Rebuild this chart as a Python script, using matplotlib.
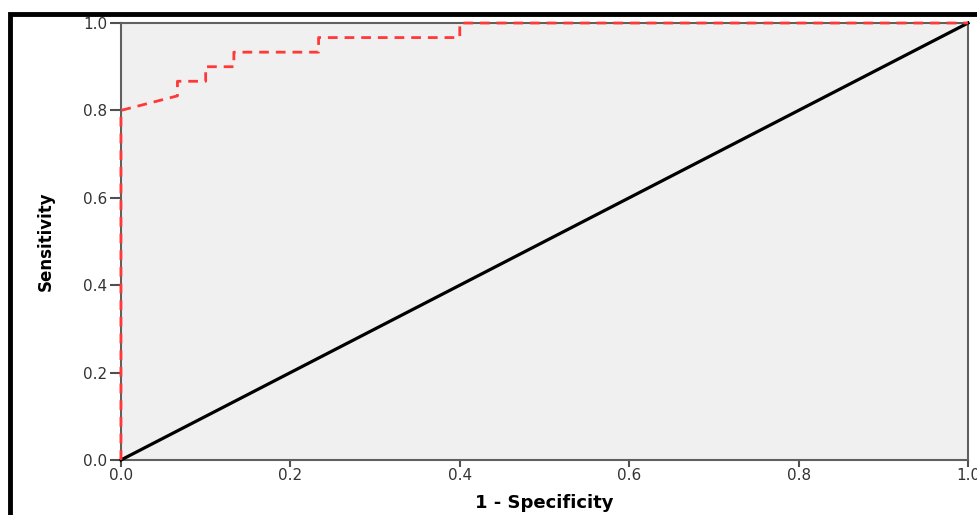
import matplotlib.pyplot as plt
from matplotlib.patches import Rectangle

# ROC curve points
fpr = [0.0, 0.0, 0.0667, 0.0667, 0.1, 0.1, 0.1333, 0.1333, 0.2333, 0.2333, 0.4, 0.4, 1.0]
tpr = [0.0, 0.8, 0.8333, 0.8667, 0.8667, 0.9, 0.9, 0.9333, 0.9333, 0.9667, 0.9667, 1.0, 1.0]
ref_x = [0.0, 1.0]
ref_y = [0.0, 1.0]
ticks = [0.0, 0.2, 0.4, 0.6, 0.8, 1.0]

fig = plt.figure(figsize=(9.77, 5.15), dpi=100)
ax = fig.add_axes([0.1238, 0.1068, 0.8670, 0.8485])
ax.set_facecolor('#f0f0f0')

ax.plot(ref_x, ref_y, color='black', lw=2.3, zorder=3, clip_on=False)
ax.plot(fpr, tpr, color='#ff3838', lw=2, ls=(0, (3.5, 2.5)), zorder=4, clip_on=False)

ax.set_xlim(0, 1)
ax.set_ylim(0, 1)
ax.set_xticks(ticks)
ax.set_yticks(ticks)
ax.set_xticklabels(['%.1f' % t for t in ticks])
ax.set_yticklabels(['%.1f' % t for t in ticks])
for s in ax.spines.values():
    s.set_color('#606060')
    s.set_linewidth(1.5)
ax.tick_params(axis='y', length=8, width=1.5, color='#505050', labelsize=11, pad=2, labelcolor='#333333')
ax.tick_params(axis='x', length=5, width=1.5, color='#505050', labelsize=11, pad=1, labelcolor='#333333')

ax.set_xlabel('1 - Specificity', fontsize=13, fontweight='bold', labelpad=8)
ax.set_ylabel('Sensitivity', fontsize=12, fontweight='bold', labelpad=20)

# black frame of the cropped screenshot
fig.patches.append(Rectangle((0.0103, -0.1), 1.2, 1.0727, transform=fig.transFigure,
                             fill=False, edgecolor='black', lw=3.5, zorder=10))

fig.savefig('out.png', dpi=100)
